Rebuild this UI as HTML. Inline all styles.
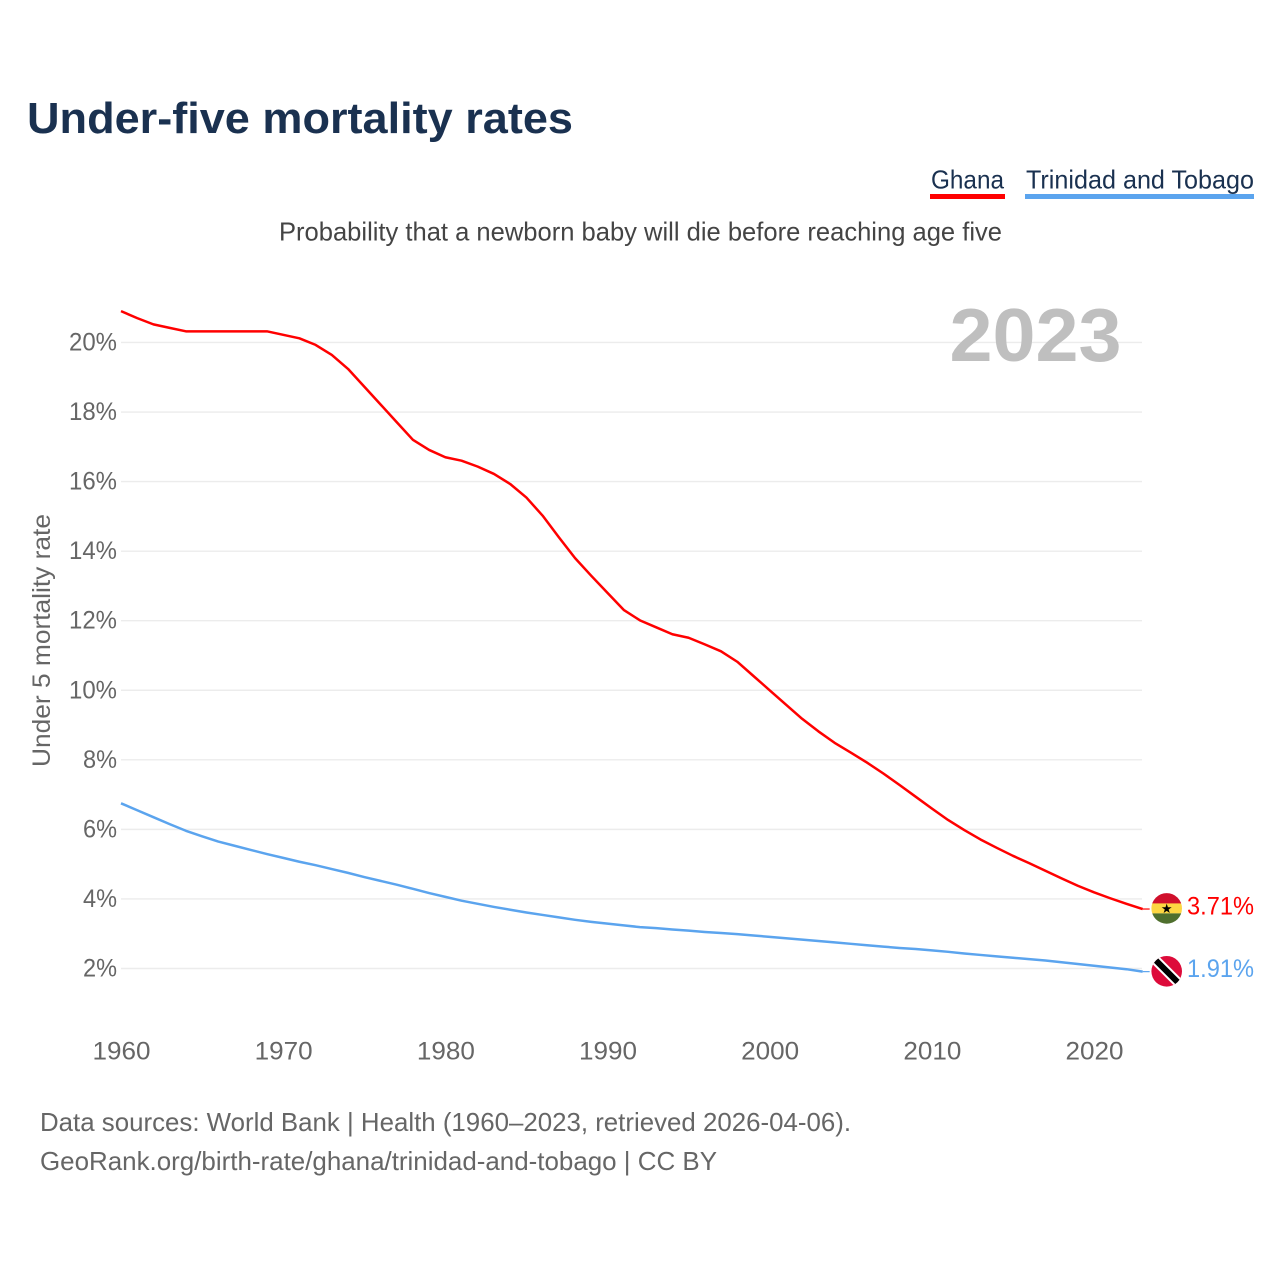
<!DOCTYPE html>
<html lang="en">
<head>
<meta charset="utf-8">
<title>Under-five mortality rates</title>
<style>
html,body{margin:0;padding:0;background:#fff;width:1280px;height:1280px;overflow:hidden}
svg{display:block}
text{font-family:"Liberation Sans",sans-serif}
</style>
</head>
<body>
<svg id="chart" xmlns="http://www.w3.org/2000/svg" width="1280" height="1280" viewBox="0 0 1280 1280">
  <rect width="1280" height="1280" fill="#fff"/>
  <text x="27" y="133" font-size="44" font-weight="700" fill="#1a3150" textLength="546" lengthAdjust="spacingAndGlyphs">Under-five mortality rates</text>
  <g>
    <g>
      <text x="931" y="188.5" font-size="26" fill="#1a3150" textLength="73" lengthAdjust="spacingAndGlyphs">Ghana</text>
      <rect x="930" y="194" width="75" height="5" fill="#ff0000"/>
    </g>
    <g>
      <text x="1026" y="188.5" font-size="26" fill="#1a3150" textLength="228" lengthAdjust="spacingAndGlyphs">Trinidad and Tobago</text>
      <rect x="1025" y="194" width="229" height="5" fill="#5ba4ee"/>
    </g>
  </g>
  <text x="279" y="240.5" font-size="26" fill="#444" textLength="723" lengthAdjust="spacingAndGlyphs">Probability that a newborn baby will die before reaching age five</text>
  <g id="grid"></g>
  <g id="yticks"></g>
  <g id="xticks"></g>
  <text x="1035.5" y="361" font-size="75" font-weight="700" fill="#bfbfbf" text-anchor="middle" textLength="172" lengthAdjust="spacingAndGlyphs">2023</text>
  <text transform="translate(50,767) rotate(-90)" x="0" y="0" font-size="25" fill="#666" textLength="253" lengthAdjust="spacingAndGlyphs">Under 5 mortality rate</text>
  <g id="series"></g>
  <g>
    <clipPath id="clip-gh"><circle cx="1166.7" cy="908.4" r="15.3"/></clipPath>
    <g clip-path="url(#clip-gh)">
      <rect x="1150" y="892" width="34" height="11.5" fill="#d0102c"/>
      <rect x="1150" y="903.4" width="34" height="10" fill="#fdd642"/>
      <rect x="1150" y="913.4" width="34" height="12" fill="#4f6f2e"/>
    </g>
    <text x="1166.7" y="912.8" font-size="13" fill="#000" text-anchor="middle" style="font-family:'DejaVu Sans',sans-serif">★</text>
  </g>
  <g>
    <clipPath id="clip-tt"><circle cx="1166.7" cy="971.3" r="15.3"/></clipPath>
    <g clip-path="url(#clip-tt)">
      <rect x="1150" y="955" width="34" height="33" fill="#dd0b3a"/>
      <line x1="1154" y1="958.5" x2="1180" y2="984.5" stroke="#fff" stroke-width="10"/>
      <line x1="1154" y1="958.5" x2="1180" y2="984.5" stroke="#000" stroke-width="6"/>
    </g>
  </g>
  <g id="endlabels"></g>
  <g>
    <text x="40" y="1131" font-size="26" fill="#666" textLength="811" lengthAdjust="spacingAndGlyphs">Data sources: World Bank | Health (1960–2023, retrieved 2026-04-06).</text>
    <text x="40" y="1170" font-size="26" fill="#666" textLength="677" lengthAdjust="spacingAndGlyphs">GeoRank.org/birth-rate/ghana/trinidad-and-tobago | CC BY</text>
  </g>
</svg>
<script>
const years = [1960,1961,1962,1963,1964,1965,1966,1967,1968,1969,1970,1971,1972,1973,1974,1975,1976,1977,1978,1979,1980,1981,1982,1983,1984,1985,1986,1987,1988,1989,1990,1991,1992,1993,1994,1995,1996,1997,1998,1999,2000,2001,2002,2003,2004,2005,2006,2007,2008,2009,2010,2011,2012,2013,2014,2015,2016,2017,2018,2019,2020,2021,2022,2023];
const ghana = [20.9,20.7,20.52,20.42,20.32,20.32,20.32,20.32,20.32,20.32,20.22,20.12,19.93,19.64,19.24,18.73,18.22,17.71,17.2,16.91,16.7,16.6,16.43,16.22,15.93,15.54,15.02,14.4,13.8,13.29,12.8,12.31,12.01,11.81,11.61,11.51,11.32,11.12,10.82,10.41,10.0,9.59,9.18,8.82,8.49,8.21,7.92,7.61,7.28,6.94,6.6,6.27,5.98,5.71,5.47,5.24,5.03,4.81,4.59,4.38,4.19,4.02,3.86,3.71];
const trinidad = [6.75,6.55,6.35,6.15,5.96,5.8,5.65,5.53,5.41,5.29,5.18,5.07,4.97,4.86,4.75,4.63,4.52,4.41,4.29,4.17,4.06,3.95,3.86,3.77,3.69,3.61,3.54,3.47,3.4,3.34,3.29,3.24,3.19,3.16,3.12,3.09,3.05,3.02,2.99,2.95,2.91,2.87,2.83,2.79,2.75,2.71,2.67,2.63,2.59,2.56,2.52,2.48,2.43,2.39,2.35,2.31,2.27,2.23,2.18,2.13,2.08,2.03,1.98,1.91];
const yTickValues = [2,4,6,8,10,12,14,16,18,20];
const xTickValues = [1960,1970,1980,1990,2000,2010,2020];

const NS = 'http://www.w3.org/2000/svg';
function xScale(year){ return 121 + (year - 1960) * 16.2167; }
function yScale(v){ return 968.5 - (v - 2) * 34.78; }
function make(tag, attrs, parent, txt){
  const el = document.createElementNS(NS, tag);
  for (const k in attrs) el.setAttribute(k, attrs[k]);
  if (txt !== undefined) el.textContent = txt;
  parent.appendChild(el);
  return el;
}
const gridG = document.getElementById('grid');
const yG = document.getElementById('yticks');
const xG = document.getElementById('xticks');
const seriesG = document.getElementById('series');
const endG = document.getElementById('endlabels');

yTickValues.forEach(function(v){
  const line = make('line', {x1:121, x2:1142, y1:yScale(v), y2:yScale(v), stroke:'#ececec', 'stroke-width':1.4}, gridG);
  
  
  const label = make('text', {x:117, y:yScale(v)+8, 'font-size':25, fill:'#666', 'text-anchor':'end', textLength:(v<10?34:48), lengthAdjust:'spacingAndGlyphs'}, yG, v + '%');
  
  
});
xTickValues.forEach(function(yr){
  const label = make('text', {x:xScale(yr)+0.5, y:1059.5, 'font-size':25, fill:'#666', 'text-anchor':'middle', textLength:58, lengthAdjust:'spacingAndGlyphs'}, xG, String(yr));
  
  
});
function drawSeries(values, color, key){
  const d = values.map(function(v, i){
    return (i ? 'L' : 'M') + xScale(years[i]).toFixed(2) + ' ' + yScale(v).toFixed(2);
  }).join(' ');
  const path = make('path', {d:d, fill:'none', stroke:color, 'stroke-width':2.5, 'stroke-linejoin':'round'}, seriesG);
  
  
  const last = values[values.length - 1];
  const lastX = xScale(years[years.length - 1]);
  const connector = make('line', {x1:lastX, x2:lastX + 7, y1:yScale(last), y2:yScale(last), stroke:color, 'stroke-width':1.2}, seriesG);
  
  
  const label = make('text', {x:1187, y:yScale(last)+5.5, 'font-size':25, fill:color, textLength:67, lengthAdjust:'spacingAndGlyphs'}, endG, last.toFixed(2) + '%');
  
  
}
drawSeries(ghana, '#ff0000', 'ghana');
drawSeries(trinidad, '#5ba4ee', 'trinidad-and-tobago');
</script>
</body>
</html>
